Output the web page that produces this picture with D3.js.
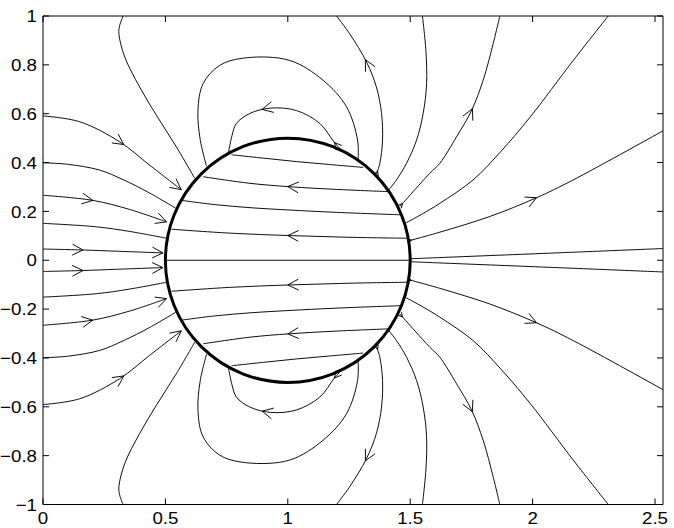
<!DOCTYPE html>
<html><head><meta charset="UTF-8"><title>Field lines</title>
<style>
  body { margin: 0; background: #fff; }
  svg { display: block; font-family: "Liberation Sans", Arial, Helvetica, sans-serif; }
  .fl { fill: none; stroke: #000; stroke-width: 0.95; }
  .arrow { fill: none; stroke: #000; stroke-width: 0.95; }
  .tick { stroke: #000; stroke-width: 1; }
  .lbl { font-size: 17px; fill: #000; }
</style>
</head>
<body>
<svg id="chart" width="674" height="528"></svg>
<script src="https://d3js.org/d3.v7.min.js"></script>
<script>
// axis ticks
const xTicks = [0, 0.5, 1, 1.5, 2, 2.5];
const xTickLabels = ["0", "0.5", "1", "1.5", "2", "2.5"];
const yTicks = [-1, -0.8, -0.6, -0.4, -0.2, 0, 0.2, 0.4, 0.6, 0.8, 1];
const yTickLabels = ["\u22121", "\u22120.8", "\u22120.6", "\u22120.4", "\u22120.2", "0", "0.2", "0.4", "0.6", "0.8", "1"];

// the sphere
const circleCenter = [1, 0];
const circleRadius = 0.5;

// field lines, upper half (points in field direction)
const lineA1 = [[0,0.591],[0.15,0.567],[0.313,0.485],[0.436,0.389],[0.566,0.288]];
const lineA2 = [[0,0.399],[0.1,0.393],[0.232,0.369],[0.327,0.33],[0.436,0.275],[0.542,0.213]];
const lineA3 = [[0,0.266],[0.204,0.245],[0.354,0.208],[0.505,0.157]];
const lineA4 = [[0,0.151],[0.218,0.137],[0.354,0.118],[0.505,0.09]];
const lineA5 = [[0,0.046],[0.163,0.042],[0.3,0.037],[0.49,0.03]];
const lineB  = [[0.327,1],[0.313,0.96],[0.31,0.927],[0.334,0.832],[0.395,0.709],[0.463,0.594],[0.545,0.464],[0.62,0.335]];
const lineC  = [[0.668,0.385],[0.642,0.495],[0.633,0.614],[0.654,0.723],[0.722,0.798],[0.831,0.829],[1.008,0.818],[1.144,0.737],[1.24,0.628],[1.285,0.492],[1.287,0.412]];
const lineD  = [[1.222,0.448],[1.19,0.483],[1.131,0.56],[1.035,0.613],[0.93,0.623],[0.845,0.601],[0.79,0.56],[0.772,0.51],[0.758,0.443]];
const lineE  = [[0.77,0.432],[0.9,0.418],[1.035,0.404],[1.17,0.392],[1.308,0.38]];
const lineF1 = [[1.41,0.281],[1.2,0.29],[1.008,0.301],[0.845,0.315],[0.654,0.342]];
const lineF2 = [[1.462,0.186],[1.2,0.196],[1.0,0.206],[0.85,0.215],[0.7,0.228],[0.56,0.246]];
const lineF3 = [[1.492,0.09],[1.25,0.094],[1.008,0.101],[0.763,0.111],[0.525,0.127]];
const lineF0 = [[0.5,0],[1.5,0]];
const lineG0 = [[1.5,0.006],[1.621,0.011],[2.07,0.029],[2.533,0.048]];
const lineG1 = [[1.496,0.08],[1.621,0.115],[1.825,0.179],[2.016,0.256],[2.166,0.329],[2.533,0.53]];
const lineG2 = [[1.477,0.15],[1.55,0.19],[1.621,0.233],[1.757,0.329],[1.87,0.445],[1.989,0.585],[2.166,0.818],[2.309,1.0]];
const lineH3 = [[1.458,0.22],[1.52,0.29],[1.58,0.356],[1.621,0.397],[1.689,0.505],[1.751,0.614],[1.798,0.737],[1.839,0.887],[1.866,1.0]];
const lineH2 = [[1.41,0.285],[1.444,0.329],[1.485,0.397],[1.526,0.492],[1.553,0.601],[1.567,0.723],[1.564,0.859],[1.55,1.0]];
const lineH1 = [[1.362,0.352],[1.376,0.397],[1.387,0.492],[1.383,0.601],[1.362,0.709],[1.322,0.811],[1.253,0.927],[1.199,1.0]];

// field lines, lower half
const lineA1m = [[0,-0.591],[0.15,-0.567],[0.313,-0.485],[0.436,-0.389],[0.566,-0.288]];
const lineA2m = [[0,-0.399],[0.1,-0.393],[0.232,-0.369],[0.327,-0.33],[0.436,-0.275],[0.542,-0.213]];
const lineA3m = [[0,-0.266],[0.204,-0.245],[0.354,-0.208],[0.505,-0.157]];
const lineA4m = [[0,-0.151],[0.218,-0.137],[0.354,-0.118],[0.505,-0.09]];
const lineA5m = [[0,-0.046],[0.163,-0.042],[0.3,-0.037],[0.49,-0.03]];
const lineBm  = [[0.327,-1],[0.313,-0.96],[0.31,-0.927],[0.334,-0.832],[0.395,-0.709],[0.463,-0.594],[0.545,-0.464],[0.62,-0.335]];
const lineCm  = [[0.668,-0.385],[0.642,-0.495],[0.633,-0.614],[0.654,-0.723],[0.722,-0.798],[0.831,-0.829],[1.008,-0.818],[1.144,-0.737],[1.24,-0.628],[1.285,-0.492],[1.287,-0.412]];
const lineDm  = [[1.222,-0.448],[1.19,-0.483],[1.131,-0.56],[1.035,-0.613],[0.93,-0.623],[0.845,-0.601],[0.79,-0.56],[0.772,-0.51],[0.758,-0.443]];
const lineEm  = [[0.77,-0.432],[0.9,-0.418],[1.035,-0.404],[1.17,-0.392],[1.308,-0.38]];
const lineF1m = [[1.41,-0.281],[1.2,-0.29],[1.008,-0.301],[0.845,-0.315],[0.654,-0.342]];
const lineF2m = [[1.462,-0.186],[1.2,-0.196],[1.0,-0.206],[0.85,-0.215],[0.7,-0.228],[0.56,-0.246]];
const lineF3m = [[1.492,-0.09],[1.25,-0.094],[1.008,-0.101],[0.763,-0.111],[0.525,-0.127]];
const lineG0m = [[1.5,-0.006],[1.621,-0.011],[2.07,-0.029],[2.533,-0.048]];
const lineG1m = [[1.496,-0.08],[1.621,-0.115],[1.825,-0.179],[2.016,-0.256],[2.166,-0.329],[2.533,-0.53]];
const lineG2m = [[1.477,-0.15],[1.55,-0.19],[1.621,-0.233],[1.757,-0.329],[1.87,-0.445],[1.989,-0.585],[2.166,-0.818],[2.309,-1.0]];
const lineH3m = [[1.458,-0.22],[1.52,-0.29],[1.58,-0.356],[1.621,-0.397],[1.689,-0.505],[1.751,-0.614],[1.798,-0.737],[1.839,-0.887],[1.866,-1.0]];
const lineH2m = [[1.41,-0.285],[1.444,-0.329],[1.485,-0.397],[1.526,-0.492],[1.553,-0.601],[1.567,-0.723],[1.564,-0.859],[1.55,-1.0]];
const lineH1m = [[1.362,-0.352],[1.376,-0.397],[1.387,-0.492],[1.383,-0.601],[1.362,-0.709],[1.322,-0.811],[1.253,-0.927],[1.199,-1.0]];

const fieldLines = [
  ["A1", lineA1], ["A2", lineA2], ["A3", lineA3], ["A4", lineA4], ["A5", lineA5],
  ["B", lineB], ["C", lineC], ["D", lineD], ["E", lineE],
  ["F1", lineF1], ["F2", lineF2], ["F3", lineF3], ["F0", lineF0],
  ["G0", lineG0], ["G1", lineG1], ["G2", lineG2], ["H1", lineH1], ["H2", lineH2], ["H3", lineH3],
  ["A1m", lineA1m], ["A2m", lineA2m], ["A3m", lineA3m], ["A4m", lineA4m], ["A5m", lineA5m],
  ["Bm", lineBm], ["Cm", lineCm], ["Dm", lineDm], ["Em", lineEm],
  ["F1m", lineF1m], ["F2m", lineF2m], ["F3m", lineF3m],
  ["G0m", lineG0m], ["G1m", lineG1m], ["G2m", lineG2m], ["H1m", lineH1m], ["H2m", lineH2m], ["H3m", lineH3m]
];

// arrowheads: [line, x, y] where the tip sits
const bigArrows = [
  ["A1", 0.334, 0.478], ["A1", 0.566, 0.288], ["A3", 0.204, 0.245], ["A3", 0.505, 0.157],
  ["A5", 0.163, 0.042], ["A5", 0.49, 0.03], ["D", 0.895, 0.621], ["F1", 1.0, 0.301],
  ["F3", 1.0, 0.101], ["G1", 2.016, 0.256], ["H3", 1.753, 0.62], ["H1", 1.315, 0.82],
  ["A1m", 0.334, -0.478], ["A1m", 0.566, -0.288], ["A3m", 0.204, -0.245], ["A3m", 0.505, -0.157],
  ["A5m", 0.163, -0.042], ["A5m", 0.49, -0.03], ["Dm", 0.895, -0.621], ["F1m", 1.0, -0.301],
  ["F3m", 1.0, -0.101], ["G1m", 2.016, -0.256], ["H3m", 1.753, -0.62], ["H1m", 1.315, -0.82]
];
const midArrows = [["D", 1.19, 0.483], ["Dm", 1.19, -0.483]];
const smallArrows = [
  ["H1", 1.366, 0.366], ["H3", 1.468, 0.232], ["G1", 1.506, 0.083],
  ["H1m", 1.366, -0.366], ["H3m", 1.468, -0.232], ["G1m", 1.506, -0.083]
];

const mLeft = 43, mRight = 663, mTop = 16, mBottom = 504.5;
const xMax = 2.5327;

const svg = d3.select("#chart");
const x = d3.scaleLinear().domain([0, xMax]).range([mLeft, mRight]);
const y = d3.scaleLinear().domain([-1, 1]).range([mBottom, mTop]);

svg.append("defs").append("clipPath").attr("id", "plotclip")
  .append("rect").attr("x", mLeft).attr("y", mTop).attr("width", mRight - mLeft).attr("height", mBottom - mTop);

const plot = svg.append("g").attr("clip-path", "url(#plotclip)");

const line = d3.line().x(d => x(d[0])).y(d => y(d[1])).curve(d3.curveCatmullRom.alpha(0.5));

const pathNodes = {};
fieldLines.forEach(([name, pts]) => {
  const p = plot.append("path").attr("class", "fl").attr("d", line(pts));
  pathNodes[name] = p.node();
});

// sphere outline
plot.append("ellipse")
  .attr("cx", x(circleCenter[0])).attr("cy", y(circleCenter[1]))
  .attr("rx", x(circleCenter[0] + circleRadius) - x(circleCenter[0]))
  .attr("ry", y(circleCenter[1]) - y(circleCenter[1] + circleRadius))
  .attr("fill", "none").attr("stroke", "#000").attr("stroke-width", 3);

function drawArrow(name, ax, ay, size) {
  const node = pathNodes[name];
  const total = node.getTotalLength();
  const px = x(ax), py = y(ay);
  let best = 0, bestD = Infinity;
  for (let l = 0; l <= total; l += 0.5) {
    const p = node.getPointAtLength(l);
    const d = (p.x - px) ** 2 + (p.y - py) ** 2;
    if (d < bestD) { bestD = d; best = l; }
  }
  const a = node.getPointAtLength(Math.max(0, best - 2));
  const b = node.getPointAtLength(Math.min(total, best + 2));
  const ang = Math.atan2(b.y - a.y, b.x - a.x);
  const tip = node.getPointAtLength(best);
  const spread = 27 * Math.PI / 180;
  const p1 = [tip.x - size * Math.cos(ang - spread), tip.y - size * Math.sin(ang - spread)];
  const p2 = [tip.x - size * Math.cos(ang + spread), tip.y - size * Math.sin(ang + spread)];
  plot.append("path").attr("class", "arrow")
    .attr("d", `M${p1[0]},${p1[1]}L${tip.x},${tip.y}L${p2[0]},${p2[1]}`);
}
bigArrows.forEach(([n, ax, ay]) => drawArrow(n, ax, ay, 12));
midArrows.forEach(([n, ax, ay]) => drawArrow(n, ax, ay, 8));
smallArrows.forEach(([n, ax, ay]) => drawArrow(n, ax, ay, 5));

// frame
svg.append("line").attr("x1", mLeft).attr("x2", mLeft).attr("y1", mTop).attr("y2", mBottom).attr("stroke", "#000");
svg.append("line").attr("x1", mRight).attr("x2", mRight).attr("y1", mTop).attr("y2", mBottom).attr("stroke", "#000");
svg.append("line").attr("x1", mLeft).attr("x2", mRight).attr("y1", mTop).attr("y2", mTop).attr("stroke", "#000");
svg.append("line").attr("x1", mLeft).attr("x2", mRight).attr("y1", mBottom).attr("y2", mBottom).attr("stroke", "#000");

// ticks (inside, all four sides)
xTicks.forEach(t => {
  svg.append("line").attr("class", "tick").attr("x1", x(t)).attr("x2", x(t)).attr("y1", mBottom).attr("y2", mBottom - 6);
  svg.append("line").attr("class", "tick").attr("x1", x(t)).attr("x2", x(t)).attr("y1", mTop).attr("y2", mTop + 6);
});
yTicks.forEach(t => {
  svg.append("line").attr("class", "tick").attr("x1", mLeft).attr("x2", mLeft + 6).attr("y1", y(t)).attr("y2", y(t));
  svg.append("line").attr("class", "tick").attr("x1", mRight).attr("x2", mRight - 6).attr("y1", y(t)).attr("y2", y(t));
});

// tick labels
xTicks.forEach((t, i) => {
  svg.append("text").attr("class", "lbl")
    .attr("transform", `translate(${x(t)},524) scale(1.1,1)`)
    .attr("text-anchor", "middle")
    .text(xTickLabels[i]);
});
yTicks.forEach((t, i) => {
  svg.append("text").attr("class", "lbl")
    .attr("transform", `translate(37,${y(t)}) scale(1.1,1)`)
    .attr("text-anchor", "end")
    .attr("dy", "0.36em")
    .text(yTickLabels[i]);
});
</script>
</body></html>
